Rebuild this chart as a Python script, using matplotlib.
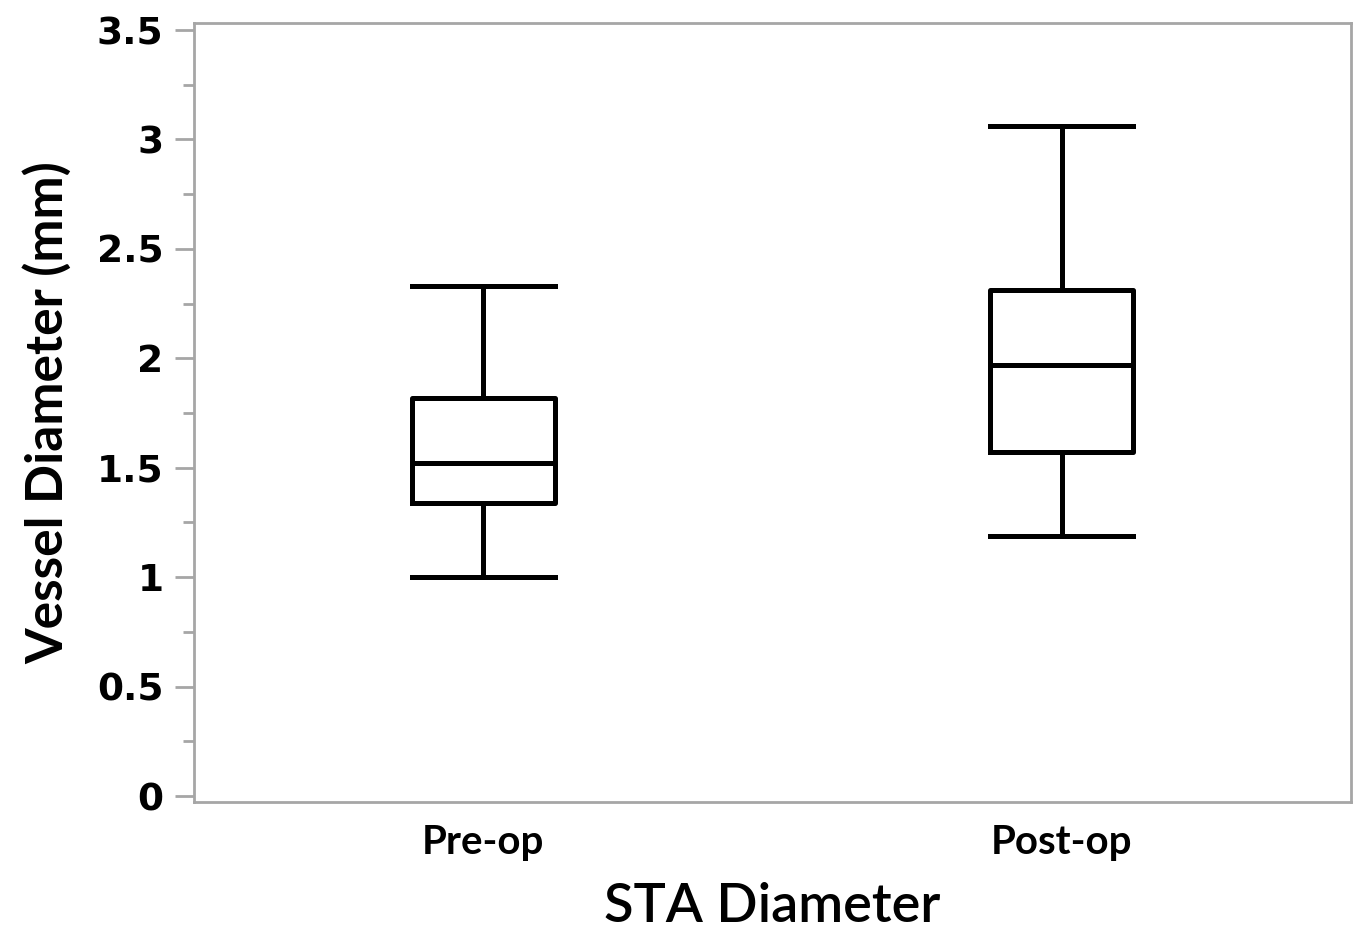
import matplotlib.pyplot as plt
from matplotlib.ticker import MultipleLocator

# box plot summary (mm)
groups = ['Pre-op', 'Post-op']
whislo = [1.00, 1.19]
q1 = [1.34, 1.57]
med = [1.52, 1.97]
q3 = [1.82, 2.31]
whishi = [2.33, 3.06]

stats = []
for i, g in enumerate(groups):
    stats.append(dict(label=g, whislo=whislo[i], q1=q1[i], med=med[i],
                      q3=q3[i], whishi=whishi[i], fliers=[]))

fig = plt.figure(figsize=(13.6, 9.33), dpi=100)
ax = fig.add_axes([194 / 1360, 1 - 802 / 933, 1157 / 1360, 779 / 933])

lw = 3.6
ax.bxp(stats, positions=[1, 2], widths=0.247, showfliers=False,
       boxprops=dict(color='black', linewidth=lw),
       medianprops=dict(color='black', linewidth=lw),
       whiskerprops=dict(color='black', linewidth=lw),
       capprops=dict(color='black', linewidth=lw),
       capwidths=0.247)

ax.set_xlim(0.5, 2.5)
ax.set_ylim(-0.027, 3.532)
ax.yaxis.set_major_locator(MultipleLocator(0.5))
ax.yaxis.set_minor_locator(MultipleLocator(0.25))
ax.set_yticks([0, 0.5, 1, 1.5, 2, 2.5, 3, 3.5])
ax.set_yticklabels(['0', '0.5', '1', '1.5', '2', '2.5', '3', '3.5'],
                   fontsize=27, fontweight='bold', family='DejaVu Sans')

for s in ax.spines.values():
    s.set_color('#a6a6a6')
    s.set_linewidth(2)
ax.tick_params(axis='y', which='major', length=14, width=2, color='#a6a6a6', pad=8)
ax.tick_params(axis='y', which='minor', length=8, width=2, color='#a6a6a6')
ax.tick_params(axis='x', length=0, pad=16)
for t in ax.get_xticklabels():
    t.set_fontsize(29)
    t.set_fontweight('bold')
    t.set_family('Lato')

ax.set_ylabel('Vessel Diameter (mm)', fontsize=37, fontweight='bold',
              family='Lato', labelpad=18)
ax.set_xlabel('STA Diameter', fontsize=39, fontweight='semibold',
              family='Lato', labelpad=15)

fig.savefig('out.png', dpi=100)
